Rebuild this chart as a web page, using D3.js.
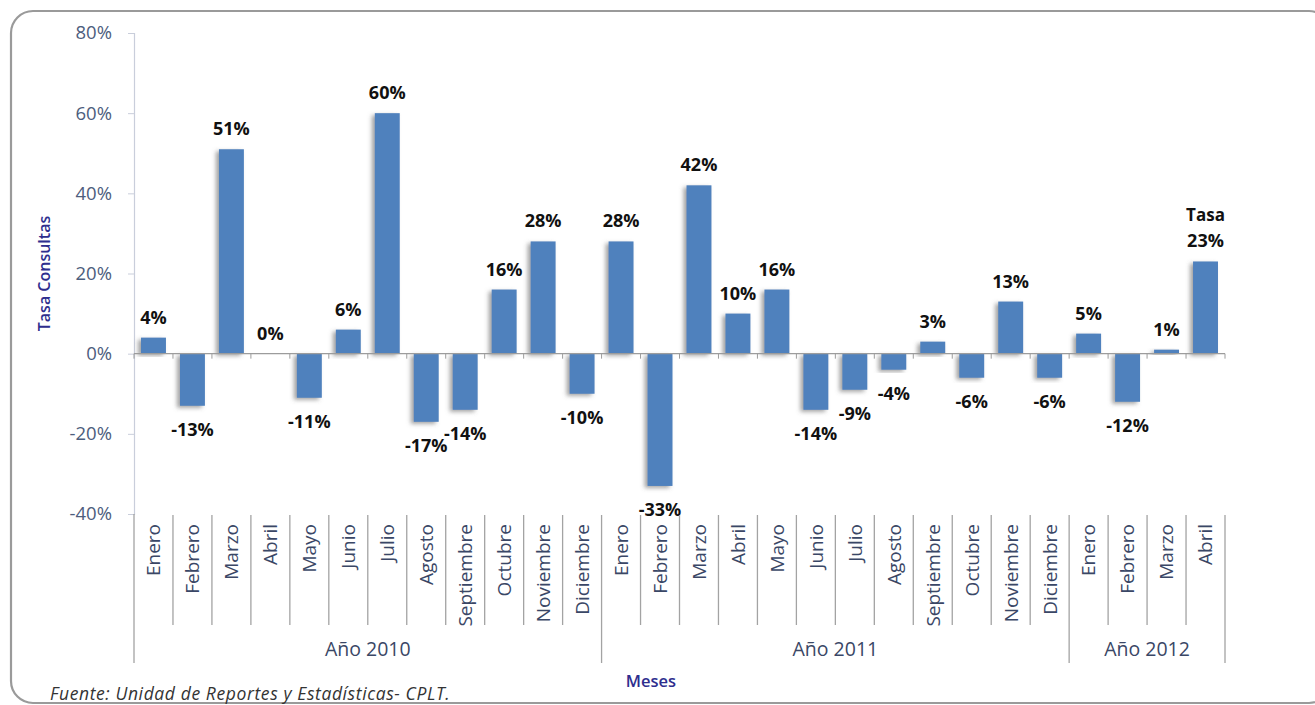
<!DOCTYPE html>
<html>
<head>
<meta charset="utf-8">
<script src="https://cdn.jsdelivr.net/npm/d3@7"></script>
<style>
  body { margin: 0; background: #fff; }
  text { font-family: "Open Sans", "Noto Sans", sans-serif; }
</style>
</head>
<body>
<div id="chart"></div>
<script>
// datos
var years = ["Año 2010", "Año 2011", "Año 2012"];
var monthsPerYear = [12, 12, 4];
var months = ["Enero", "Febrero", "Marzo", "Abril", "Mayo", "Junio", "Julio", "Agosto",
              "Septiembre", "Octubre", "Noviembre", "Diciembre",
              "Enero", "Febrero", "Marzo", "Abril", "Mayo", "Junio", "Julio", "Agosto",
              "Septiembre", "Octubre", "Noviembre", "Diciembre",
              "Enero", "Febrero", "Marzo", "Abril"];
var tasa = [4, -13, 51, 0, -11, 6, 60, -17, -14, 16, 28, -10,
            28, -33, 42, 10, 16, -14, -9, -4, 3, -6, 13, -6,
            5, -12, 1, 23];
var yTicks = [-40, -20, 0, 20, 40, 60, 80];

var fullwidth = 1315, fullheight = 705;
var margin = { top: 33, left: 134, right: 90, bottom: 191 };
var x0 = margin.left, x1 = fullwidth - margin.right;
var yTop = margin.top, yBot = fullheight - margin.bottom;

var svg = d3.select("#chart").append("svg")
    .attr("width", fullwidth)
    .attr("height", fullheight);

var defs = svg.append("defs");
var f = defs.append("filter").attr("id", "sombra")
    .attr("x", "-50%").attr("y", "-20%").attr("width", "200%").attr("height", "140%");
f.append("feDropShadow")
    .attr("dx", -3).attr("dy", 2).attr("stdDeviation", 2.2)
    .attr("flood-color", "#666").attr("flood-opacity", 0.6);

// marco
svg.append("rect")
    .attr("x", 11).attr("y", 11)
    .attr("width", 1320).attr("height", 692)
    .attr("rx", 22).attr("ry", 22)
    .attr("fill", "none")
    .attr("stroke", "#9a9a9a")
    .attr("stroke-width", 2.2);

var xScale = d3.scaleBand()
    .domain(d3.range(months.length))
    .range([x0, x1])
    .paddingInner(0.36)
    .paddingOuter(0.18);

var xEdge = function(i) { return x0 + i * (x1 - x0) / months.length; };

var yScale = d3.scaleLinear()
    .domain([-40, 80])
    .range([yBot, yTop]);

// eje y
var yAxis = d3.axisLeft(yScale)
    .tickValues(yTicks)
    .tickSize(6)
    .tickPadding(16)
    .tickFormat(function(d) { return d + "%"; });

var gy = svg.append("g")
    .attr("transform", "translate(" + x0 + ",0)")
    .call(yAxis);
gy.select(".domain").attr("stroke", "#c9cedb").attr("stroke-width", 1.2);
gy.selectAll(".tick line").attr("stroke", "#c9cedb");
gy.selectAll(".tick text")
    .attr("fill", "#4d5d7d")
    .style("font-size", "18.5px")
    .style("font-family", "'Open Sans', sans-serif");

// barras
svg.append("g").selectAll("rect")
    .data(tasa)
    .enter()
    .append("rect")
    .attr("x", function(d, i) { return xScale(i); })
    .attr("y", function(d) { return yScale(Math.max(0, d)); })
    .attr("width", xScale.bandwidth())
    .attr("height", function(d) { return Math.abs(yScale(d) - yScale(0)); })
    .attr("fill", "#4f81bd")
    .attr("filter", "url(#sombra)");

// linea cero con marcas
var y0 = yScale(0);
svg.append("line")
    .attr("x1", x0).attr("x2", x1)
    .attr("y1", y0).attr("y2", y0)
    .attr("stroke", "#9c9c9c").attr("stroke-width", 1.3);
svg.append("g").selectAll("line")
    .data(d3.range(months.length + 1))
    .enter()
    .append("line")
    .attr("x1", function(i) { return xEdge(i); })
    .attr("x2", function(i) { return xEdge(i); })
    .attr("y1", y0).attr("y2", y0 + 5)
    .attr("stroke", "#9c9c9c");

// etiquetas de datos
var labels = svg.append("g");
labels.selectAll("text")
    .data(tasa)
    .enter()
    .append("text")
    .attr("x", function(d, i) { return xScale(i) + xScale.bandwidth() / 2; })
    .attr("y", function(d) { return d >= 0 ? yScale(d) - 14 : yScale(d) + 30; })
    .attr("text-anchor", "middle")
    .style("font-size", "18px")
    .style("font-weight", "bold")
    .attr("fill", "#111")
    .text(function(d) { return d + "%"; });

var last = tasa.length - 1;
labels.append("text")
    .attr("x", xScale(last) + xScale.bandwidth() / 2)
    .attr("y", yScale(tasa[last]) - 40)
    .attr("text-anchor", "middle")
    .style("font-size", "17px")
    .style("font-weight", "bold")
    .attr("fill", "#111")
    .text("Tasa");

// separadores de categorias
var starts = [0];
monthsPerYear.forEach(function(n, k) { starts.push(starts[k] + n); });

svg.append("g").selectAll("line")
    .data(d3.range(1, months.length + 1))
    .enter()
    .append("line")
    .attr("x1", function(i) { return xEdge(i); })
    .attr("x2", function(i) { return xEdge(i); })
    .attr("y1", yBot + 1)
    .attr("y2", function(i) { return starts.indexOf(i) >= 0 ? 663 : 625; })
    .attr("stroke", "#a3a3a3").attr("stroke-width", 1.3);

svg.append("line")
    .attr("x1", x0).attr("x2", x0)
    .attr("y1", yBot).attr("y2", 663)
    .attr("stroke", "#a3a3a3").attr("stroke-width", 1.3);

// meses
svg.append("g").selectAll("text")
    .data(months)
    .enter()
    .append("text")
    .attr("transform", function(d, i) {
        return "translate(" + (xScale(i) + xScale.bandwidth() / 2) + "," + (yBot + 10) + ") rotate(-90)";
    })
    .attr("dy", "0.36em")
    .attr("text-anchor", "end")
    .style("font-size", "19px")
    .attr("fill", "#3a4766")
    .text(function(d) { return d; });

// años
svg.append("g").selectAll("text")
    .data(years)
    .enter()
    .append("text")
    .attr("x", function(d, k) { return (xEdge(starts[k]) + xEdge(starts[k + 1])) / 2; })
    .attr("y", 656)
    .attr("text-anchor", "middle")
    .style("font-size", "19.5px")
    .attr("fill", "#3a4766")
    .text(function(d) { return d; });

// titulos
svg.append("text")
    .attr("transform", "translate(50," + ((yTop + yBot) / 2) + ") rotate(-90)")
    .attr("text-anchor", "middle")
    .style("font-size", "16px")
    .style("font-weight", 600)
    .attr("fill", "#2e2e8e")
    .text("Tasa Consultas");

svg.append("text")
    .attr("x", 651).attr("y", 687)
    .attr("text-anchor", "middle")
    .style("font-size", "16.5px")
    .style("font-weight", 600)
    .attr("fill", "#2e2e8e")
    .text("Meses");

svg.append("text")
    .attr("x", 50).attr("y", 700)
    .style("font-size", "17.5px")
    .style("font-style", "italic")
    .style("letter-spacing", "0.6px")
    .attr("fill", "#333")
    .text("Fuente: Unidad de Reportes y Estadísticas- CPLT.");
</script>
</body>
</html>
